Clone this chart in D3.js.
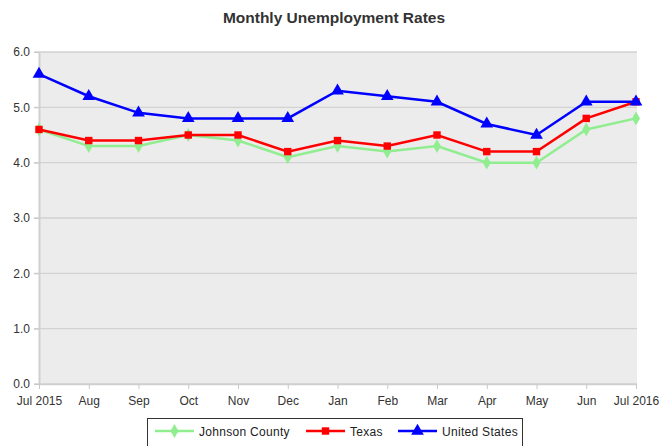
<!DOCTYPE html>
<html>
<head>
<meta charset="utf-8">
<script src="https://cdn.jsdelivr.net/npm/d3@7"></script>
<style>
  body { margin: 0; background: #fff; }
  text { font-family: "Liberation Sans", Arial, sans-serif; }
</style>
</head>
<body>
<script>
const months = ["Jul 2015", "Aug", "Sep", "Oct", "Nov", "Dec", "Jan", "Feb", "Mar", "Apr", "May", "Jun", "Jul 2016"];
const johnson = [4.6, 4.3, 4.3, 4.5, 4.4, 4.1, 4.3, 4.2, 4.3, 4.0, 4.0, 4.6, 4.8];
const texas   = [4.6, 4.4, 4.4, 4.5, 4.5, 4.2, 4.4, 4.3, 4.5, 4.2, 4.2, 4.8, 5.1];
const usa     = [5.6, 5.2, 4.9, 4.8, 4.8, 4.8, 5.3, 5.2, 5.1, 4.7, 4.5, 5.1, 5.1];
const yTicks  = [0, 1, 2, 3, 4, 5, 6];

const series = [
  { name: "Johnson County", values: johnson, color: "#90ee90", symbol: d3.symbolDiamond, size: 55 },
  { name: "Texas", values: texas, color: "#ff0000", symbol: d3.symbolSquare, size: 55 },
  { name: "United States", values: usa, color: "#0000ff", symbol: d3.symbolTriangle, size: 70 }
];

const w = 661, h = 446,
      padL = 39, padR = 637, padT = 52, padB = 384;

const svg = d3.select("body").append("svg")
  .attr("width", w)
  .attr("height", h);

const x = d3.scalePoint().domain(months).range([padL, padR - 1]);
const y = d3.scaleLinear().domain([0, 6]).range([padB, padT]);

// plot background
svg.append("rect")
  .attr("x", padL).attr("y", padT)
  .attr("width", padR - padL).attr("height", padB - padT)
  .attr("fill", "#ececec");

// grid
svg.append("g")
  .selectAll("line")
  .data(yTicks)
  .enter().append("line")
  .attr("x1", padL - 5).attr("x2", padR)
  .attr("y1", d => y(d)).attr("y2", d => y(d))
  .attr("stroke", "#d2d2d2")
  .attr("stroke-width", 1.3);

// y axis
const yAxis = svg.append("g")
  .attr("transform", "translate(" + padL + ",0)")
  .call(d3.axisLeft(y).tickValues(yTicks).tickFormat(d3.format(".1f")).tickSize(5).tickPadding(4).tickSizeOuter(0));
yAxis.select(".domain").attr("stroke", "#cfcfcf").attr("stroke-width", 2);
yAxis.selectAll(".tick line").attr("stroke", "#c8c8c8");
yAxis.selectAll("text").attr("font-size", 12).attr("fill", "#333");

// x axis
const xAxis = svg.append("g")
  .attr("transform", "translate(0," + padB + ")")
  .call(d3.axisBottom(x).tickSize(5).tickSizeOuter(0));
xAxis.select(".domain").attr("stroke", "#cfcfcf").attr("stroke-width", 1.5);
xAxis.selectAll(".tick line").attr("stroke", "#c8c8c8");
xAxis.selectAll("text").attr("font-size", 12).attr("fill", "#333").attr("dy", "1.05em");

// lines
const line = d3.line()
  .x((d, i) => x(months[i]))
  .y(d => y(d));

series.forEach(s => {
  svg.append("path")
    .datum(s.values)
    .attr("d", line)
    .attr("fill", "none")
    .attr("stroke", s.color)
    .attr("stroke-width", 2.5);

  svg.append("g")
    .selectAll("path")
    .data(s.values)
    .enter().append("path")
    .attr("d", d3.symbol().type(s.symbol).size(s.size))
    .attr("transform", (d, i) => "translate(" + x(months[i]) + "," + y(d) + ")")
    .attr("fill", s.color);
});

// title
svg.append("text")
  .text("Monthly Unemployment Rates")
  .attr("x", 334)
  .attr("y", 23)
  .attr("text-anchor", "middle")
  .attr("font-size", 15.5)
  .attr("font-weight", "bold")
  .attr("fill", "#333");

// legend
svg.append("rect")
  .attr("x", 147.5).attr("y", 418.5)
  .attr("width", 375).attr("height", 40)
  .attr("fill", "#fff")
  .attr("stroke", "#333")
  .attr("stroke-width", 1);

const legendX = [155, 306, 398];
const legend = svg.append("g")
  .selectAll("g")
  .data(series)
  .enter().append("g")
  .attr("transform", (d, i) => "translate(" + legendX[i] + ",431)");

legend.append("line")
  .attr("x1", 0).attr("x2", 39)
  .attr("stroke", d => d.color)
  .attr("stroke-width", 2.5);
legend.append("path")
  .attr("d", d => d3.symbol().type(d.symbol).size(d.size)())
  .attr("transform", "translate(19.5,0)")
  .attr("fill", d => d.color);
legend.append("text")
  .text(d => d.name)
  .attr("x", 44)
  .attr("y", 4.5)
  .attr("font-size", 12)
  .attr("letter-spacing", 0.3)
  .attr("fill", "#222");
</script>
</body>
</html>
